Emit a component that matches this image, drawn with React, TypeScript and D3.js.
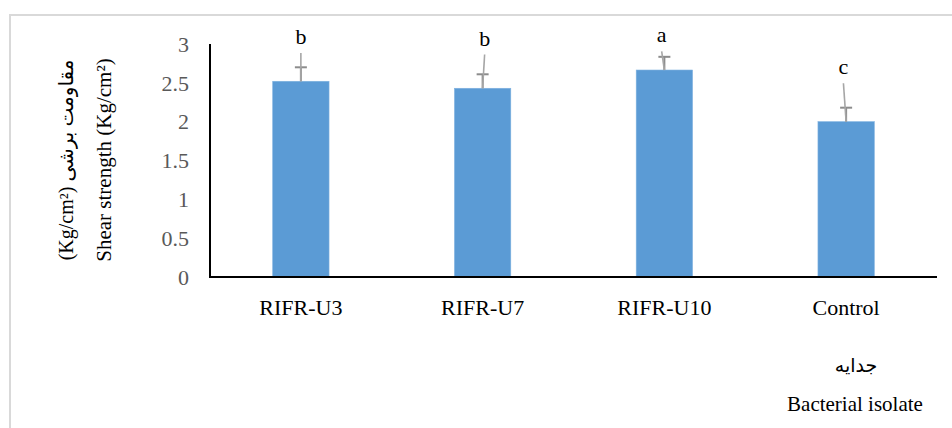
import React from 'react'
import * as d3 from 'd3'

const WIDTH = 952
const HEIGHT = 428

// chart data
const isolates = ['RIFR-U3', 'RIFR-U7', 'RIFR-U10', 'Control']
const shearStrength = [2.52, 2.43, 2.665, 2.0]
const stdError = [0.18, 0.18, 0.17, 0.18]
const groupLetters = ['b', 'b', 'a', 'c']
// height (in axis units) where each letter sits, as placed in the original
const letterLevel = [3.0, 2.98, 3.02, 2.61]
const letterShift = [0, 2, -2.7, -2.7]
const yTicks = [0, 0.5, 1, 1.5, 2, 2.5, 3]

const BAR_COLOR = '#5b9bd5'
const ERR_COLOR = '#8c8c8c'
const SERIF = "'Times New Roman', 'Liberation Serif', 'DejaVu Serif', serif"
const ARABIC = "'Times New Roman', 'Liberation Serif', 'DejaVu Sans', serif"

export default function App() {
  const x = d3.scaleBand<string>().domain(isolates).range([210, 937])
  const y = d3.scaleLinear().domain([0, 3]).range([277, 44])
  const barW = x.bandwidth() * 0.31

  return (
    <svg
      width={WIDTH}
      height={HEIGHT}
      style={{ position: 'absolute', left: 0, top: 0, background: '#fff', fontFamily: SERIF }}
    >
      {/* chart area frame */}
      <rect x={10} y={15} width={1000} height={500} fill="#fff" stroke="#d9d9d9" strokeWidth={2} />

      {/* bars */}
      <g>
        {isolates.map((c, i) => (
          <rect
            key={c}
            x={x(c)! + x.bandwidth() / 2 - barW / 2}
            y={y(shearStrength[i])}
            width={barW}
            height={y(0) - y(shearStrength[i])}
            fill={BAR_COLOR}
            stroke="#7fb1df"
            strokeWidth={0.6}
          />
        ))}
      </g>

      {/* error bars, leader lines and letters */}
      <g>
        {isolates.map((c, i) => {
          const cx = x(c)! + x.bandwidth() / 2
          const top = y(shearStrength[i])
          const cap = y(shearStrength[i] + stdError[i])
          const lx = cx + letterShift[i]
          const ly = y(letterLevel[i])
          return (
            <g key={c}>
              <line x1={cx} x2={cx} y1={top} y2={cap} stroke={ERR_COLOR} strokeWidth={2} />
              <line x1={cx - 6} x2={cx + 6} y1={cap} y2={cap} stroke={ERR_COLOR} strokeWidth={2} />
              <line x1={cx} x2={lx} y1={top} y2={ly + 9} stroke="#a6a6a6" strokeWidth={1.6} />
              <text x={lx} y={ly} textAnchor="middle" style={{ fontFamily: SERIF }} fontSize={22} fill="#000">
                {groupLetters[i]}
              </text>
            </g>
          )
        })}
      </g>

      {/* y axis */}
      <line x1={210} x2={210} y1={y(3)} y2={y(0) + 1} stroke="#000" strokeWidth={2} />
      {yTicks.map((t) => (
        <text
          key={t}
          x={189}
          y={y(t)}
          dy="0.35em"
          textAnchor="end"
          style={{ fontFamily: SERIF }}
          fontSize={22}
          fill="#595959"
        >
          {t}
        </text>
      ))}

      {/* x axis */}
      <line x1={209} x2={937} y1={y(0)} y2={y(0)} stroke="#000" strokeWidth={2} />
      {isolates.map((c) => (
        <text
          key={c}
          x={x(c)! + x.bandwidth() / 2}
          y={315}
          textAnchor="middle"
          style={{ fontFamily: SERIF }}
          fontSize={22}
          fill="#000"
        >
          {c}
        </text>
      ))}

      {/* y title */}
      <g transform="translate(73,160) rotate(-90)">
        <text textAnchor="middle" style={{ fontFamily: ARABIC }} fontSize={20} fill="#000">
          (Kg/cm²) مقاومت برشی
        </text>
      </g>
      <g transform="translate(111,160) rotate(-90)">
        <text textAnchor="middle" style={{ fontFamily: SERIF }} fontSize={21} fill="#000">
          Shear strength (Kg/cm²)
        </text>
      </g>

      {/* x title */}
      <text x={856} y={372} textAnchor="middle" style={{ fontFamily: ARABIC }} fontSize={19} fill="#000">
        جدایه
      </text>
      <text x={855} y={411} textAnchor="middle" style={{ fontFamily: SERIF }} fontSize={21} fill="#000">
        Bacterial isolate
      </text>
    </svg>
  )
}
